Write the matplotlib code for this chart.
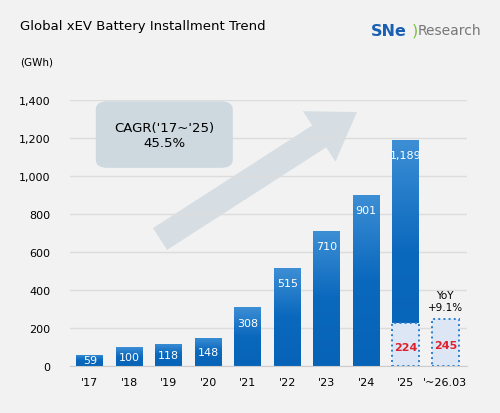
import numpy as np
import matplotlib.pyplot as plt
from matplotlib.patches import FancyBboxPatch, Polygon, Rectangle
from matplotlib.colors import LinearSegmentedColormap

years = ["'17", "'18", "'19", "'20", "'21", "'22", "'23", "'24", "'25", "'~26.03"]
values = [59, 100, 118, 148, 308, 515, 710, 901, 1189, None]
q1_2025 = 224
q1_2026 = 245

bg = '#f2f2f2'
fig = plt.figure(figsize=(5, 4.14), dpi=100, facecolor=bg)
ax = fig.add_axes([0.14, 0.1135, 0.794, 0.6425], facecolor=bg)
ax.set_xlim(-0.5, 9.55)
ax.set_ylim(0, 1400)

x = np.arange(len(years))
w = 0.68
grad = np.linspace(0, 1, 256).reshape(-1, 1)
cmap = LinearSegmentedColormap.from_list('b', ['#0663b8', '#0a68bd', '#3d8fd5'])

for i, v in enumerate(values):
    if v is None:
        continue
    b = ax.bar(x[i], v, w, color='#1570c4', zorder=2)[0]
    im = ax.imshow(grad, extent=[x[i]-w/2, x[i]+w/2, 0, v], origin='lower',
                   cmap=cmap, aspect='auto', zorder=2)
    im.set_clip_path(b)
    ly = v - 80 if v > 200 else v / 2
    ax.text(x[i], ly, f'{v:,}', ha='center', va='center', color='white', fontsize=8, zorder=4)

# Q1 boxes
for xi, v in [(x[8], q1_2025), (x[9], q1_2026)]:
    ax.add_patch(Rectangle((xi - w/2, 0), w, v, facecolor='#dde6f4', edgecolor='#2a7fd0',
                           linestyle=':', linewidth=1.4, zorder=3))
    ax.text(xi, v / 2 - 10, str(v), ha='center', va='center', color='#e0202a', fontsize=8,
            fontweight='bold', zorder=4)
ax.text(x[9], q1_2026 + 40, 'YoY\n+9.1%', ha='center', va='bottom', fontsize=7.5, zorder=4)

# big arrow, built in pixel space then mapped to axes fraction
axw, axh = 397.0, 266.0
p0 = np.array([160.0 - 70, 367.0 - 240])
p1 = np.array([357.0 - 70, 367.0 - 113])
d = (p1 - p0) / np.linalg.norm(p1 - p0)
n = np.array([-d[1], d[0]])
hl, hw, sw = 45.0, 30.0, 13.0
base = p1 - d * hl
pts = [p0 + n*sw, base + n*sw, base + n*hw, p1, base - n*hw, base - n*sw, p0 - n*sw]
pts = [(p[0]/axw, p[1]/axh) for p in pts]
ax.add_patch(Polygon(pts, closed=True, transform=ax.transAxes, facecolor='#d3dce2',
                     edgecolor='none', alpha=0.9, zorder=1.5))
ax.add_patch(FancyBboxPatch((0.065, 0.745), 0.345, 0.25, boxstyle='round,pad=0,rounding_size=0.03',
                            transform=ax.transAxes, facecolor='#cdd8df', edgecolor='none',
                            zorder=1.6))
ax.text(0.2375, 0.87, "CAGR('17~'25)\n45.5%", transform=ax.transAxes, ha='center',
        va='center', fontsize=9.5, zorder=5)

ax.set_yticks(range(0, 1401, 200))
ax.set_yticklabels([f'{t:,}' for t in range(0, 1401, 200)], fontsize=8)
ax.set_xticks(x)
ax.set_xticklabels(years, fontsize=8)
ax.grid(axis='y', color='#dcdcdc', linewidth=1, zorder=0)
ax.tick_params(axis='y', length=0, pad=14)
ax.tick_params(axis='x', length=0, pad=8)
for s in ['top', 'right', 'left']:
    ax.spines[s].set_visible(False)
ax.spines['bottom'].set_color('#cccccc')

fig.text(0.04, 0.935, 'Global xEV Battery Installment Trend', fontsize=9.5, va='center')
fig.text(0.04, 0.85, '(GWh)', fontsize=7.5, va='center')
fig.text(0.742, 0.925, 'SNe', fontsize=11.5, fontweight='bold', color='#1a5fb4', va='center')
fig.text(0.823, 0.925, ')', fontsize=11.5, color='#7cc242', va='center')
fig.text(0.836, 0.925, 'Research', fontsize=10, color='#777777', va='center')

fig.savefig('out.png', dpi=100, facecolor=bg)
